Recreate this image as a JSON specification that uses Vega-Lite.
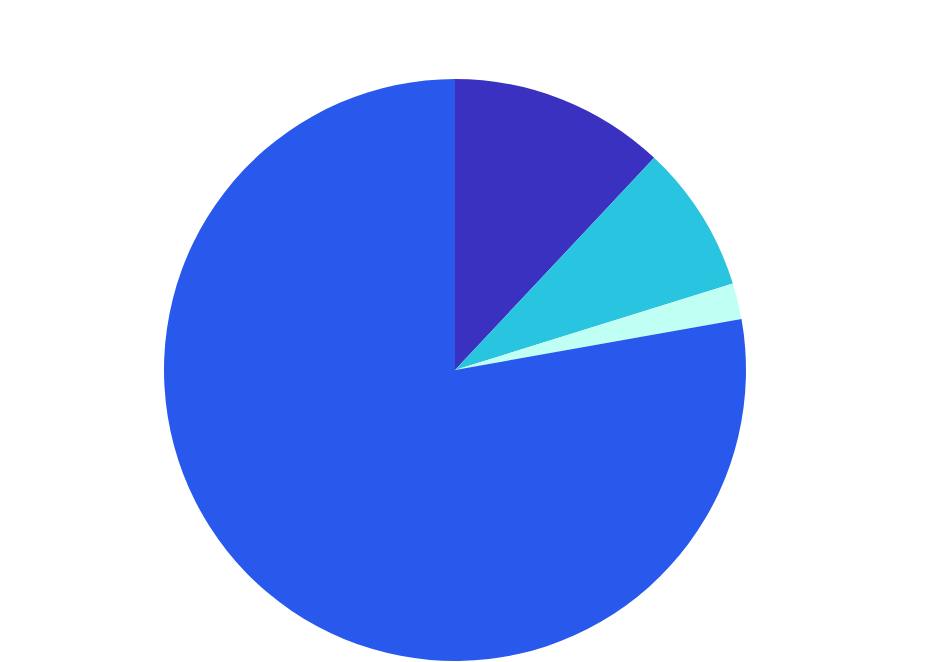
{
  "$schema": "https://vega.github.io/schema/vega-lite/v6.json",
  "width": 910,
  "height": 582,
  "padding": {"left": 0, "top": 79, "right": 40, "bottom": 1},
  "background": "white",
  "view": {"stroke": null},
  "data": {
    "values": [
      {"category": "A", "value": 12.0, "rank": 1},
      {"category": "B", "value": 8.2, "rank": 2},
      {"category": "C", "value": 2.0, "rank": 3},
      {"category": "D", "value": 77.8, "rank": 4}
    ]
  },
  "mark": {"type": "arc", "outerRadius": 291},
  "encoding": {
    "theta": {"field": "value", "type": "quantitative", "stack": true},
    "order": {"field": "rank", "type": "quantitative"},
    "color": {
      "field": "category",
      "type": "nominal",
      "scale": {"domain": ["A", "B", "C", "D"], "range": ["#3b31c0", "#29c4df", "#c0fff4", "#2959ec"]},
      "legend": null
    }
  }
}
